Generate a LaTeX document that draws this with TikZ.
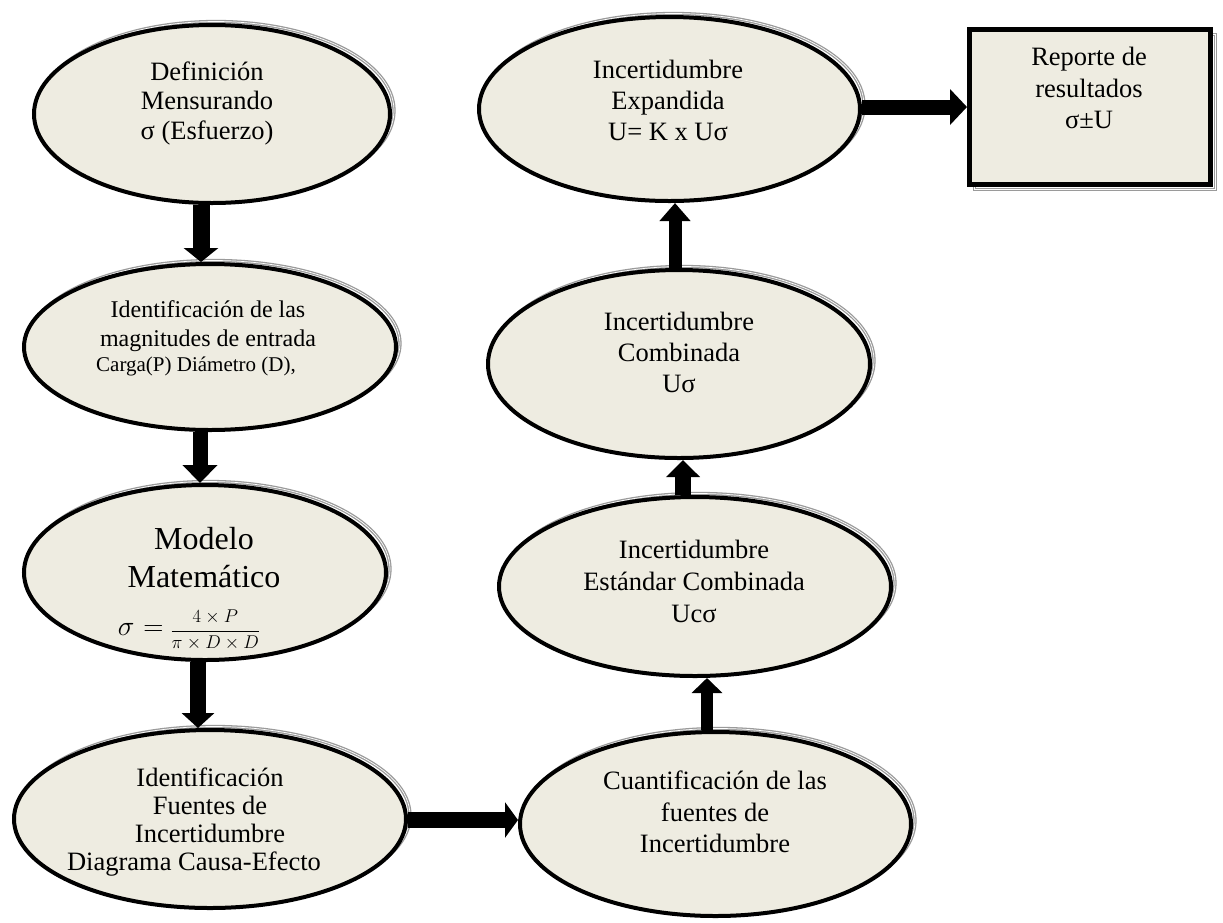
\documentclass[tikz,border=0pt]{standalone}
\usepackage{fix-cm}
\usepackage{fontspec}
\setmainfont{Liberation Serif}
\usetikzlibrary{arrows.meta,shapes.geometric}

\definecolor{paper}{HTML}{EEECE1}
\definecolor{shade}{HTML}{9A9A9A}

\begin{document}
\begin{tikzpicture}[x=1pt,y=-1pt,
  oval/.style={ellipse, draw=black, line width=4pt, fill=paper, inner sep=0pt,
    preaction={draw=shade, double=white, double distance=0.7pt, line width=1.3pt,
      transform canvas={shift={(4pt,3.5pt)}}}},
  panel/.style={rectangle, draw=black, line width=5pt, fill=paper, inner sep=0pt,
    preaction={draw=shade, double=white, double distance=0.7pt, line width=1.3pt,
      transform canvas={shift={(5pt,-5pt)}}}},
  txt/.style={align=center, inner sep=0pt, text=black},
  flow/.style args={#1/#2/#3}{draw=black, line width=#1,
    -{Triangle[width=#2, length=#3]}}
]
\useasboundingbox (0,0) rectangle (1223,922);

% ---- left column ----
\node[oval, minimum width=356pt, minimum height=178pt] (e1) at (212,114) {};
\node[oval, minimum width=372pt, minimum height=166pt] (e2) at (210,347) {};
\node[oval, minimum width=362pt, minimum height=175pt] (e3) at (205,572.5) {};
\node[oval, minimum width=392pt, minimum height=178pt] (e4) at (210,819) {};

% ---- right column ----
\node[oval, minimum width=391pt, minimum height=184pt] (e5) at (715.5,824) {};
\node[oval, minimum width=392pt, minimum height=179pt] (e6) at (695,586.5) {};
\node[oval, minimum width=382pt, minimum height=188pt] (e7) at (679,364) {};
\node[oval, minimum width=381pt, minimum height=184pt] (e8) at (669.5,109) {};

% ---- result box ----
\node[panel, minimum width=241pt, minimum height=155pt] (rep) at (1090,107) {};

% ---- texts ----
\node[txt, font=\fontsize{26.5}{29.5}\selectfont] (t1) at (207,103)
  {Definición\\Mensurando\\σ (Esfuerzo)};
\node[txt, font=\fontsize{24}{29}\selectfont] (t2) at (208,338)
  {Identificación de las\\magnitudes de entrada\\[-4pt]{\fontsize{21}{25}\selectfont Carga(P) Diámetro (D),}\hspace*{24pt}};
\node[txt, font=\fontsize{32}{38}\selectfont] (t3) at (204,558)
  {Modelo\\Matemático};
\node[txt] (f3) at (189,630)
  {{\fontsize{28}{30}\selectfont$\sigma$\hspace{9pt}$=$}\hspace{7pt}{\fontsize{18.5}{22}\selectfont$\displaystyle\frac{4\times P}{\pi\times D\times D}$}};
\node[txt, font=\fontsize{26.5}{27.7}\selectfont] (t4) at (210,822)
  {Identificación\\Fuentes de\\Incertidumbre\\Diagrama Causa-Efecto\hspace*{32pt}};
\node[txt, font=\fontsize{26.5}{31.5}\selectfont] (t5) at (715,812)
  {Cuantificación de las\\fuentes de\\Incertidumbre};
\node[txt, font=\fontsize{26.5}{32}\selectfont] (t6) at (694,581)
  {Incertidumbre\\Estándar Combinada\\Ucσ};
\node[txt, font=\fontsize{26.5}{31}\selectfont] (t7) at (679,352)
  {Incertidumbre\\Combinada\\Uσ};
\node[txt, font=\fontsize{26.5}{31}\selectfont] (t8) at (668,100)
  {Incertidumbre\\Expandida\\U= K x Uσ};
\node[txt, font=\fontsize{26.5}{31.5}\selectfont] (tb) at (1089,88)
  {Reporte de\\resultados\\σ±U};

% ---- connector guides ----
\coordinate (x1) at (201,0);
\coordinate (x2) at (200,0);
\coordinate (x3) at (198,0);
\coordinate (x5) at (707,0);
\coordinate (x6) at (683,0);
\coordinate (x7) at (675,0);
\coordinate (y4) at (0,820);
\coordinate (y8) at (0,107);

% ---- block arrows ----
\draw[flow=17pt/34pt/14pt] (e1.south -| x1) -- (e2.north -| x1);
\draw[flow=15pt/34pt/18pt] (e2.south -| x2) -- (e3.north -| x2);
\draw[flow=16pt/32pt/15pt] (e3.south -| x3) -- (e4.north -| x3);
\draw[flow=16pt/35pt/13pt] (e4.east |- y4) -- (e5.west |- y4);
\draw[flow=12pt/30pt/15pt] (e5.north -| x5) -- (e6.south -| x5);
\draw[flow=16pt/33pt/17pt] (e6.north -| x6) -- (e7.south -| x6);
\draw[flow=13pt/30pt/18pt] (e7.north -| x7) -- (e8.south -| x7);
\draw[flow=15pt/35pt/17pt] (e8.east |- y8) -- (rep.west |- y8);
\end{tikzpicture}
\end{document}
